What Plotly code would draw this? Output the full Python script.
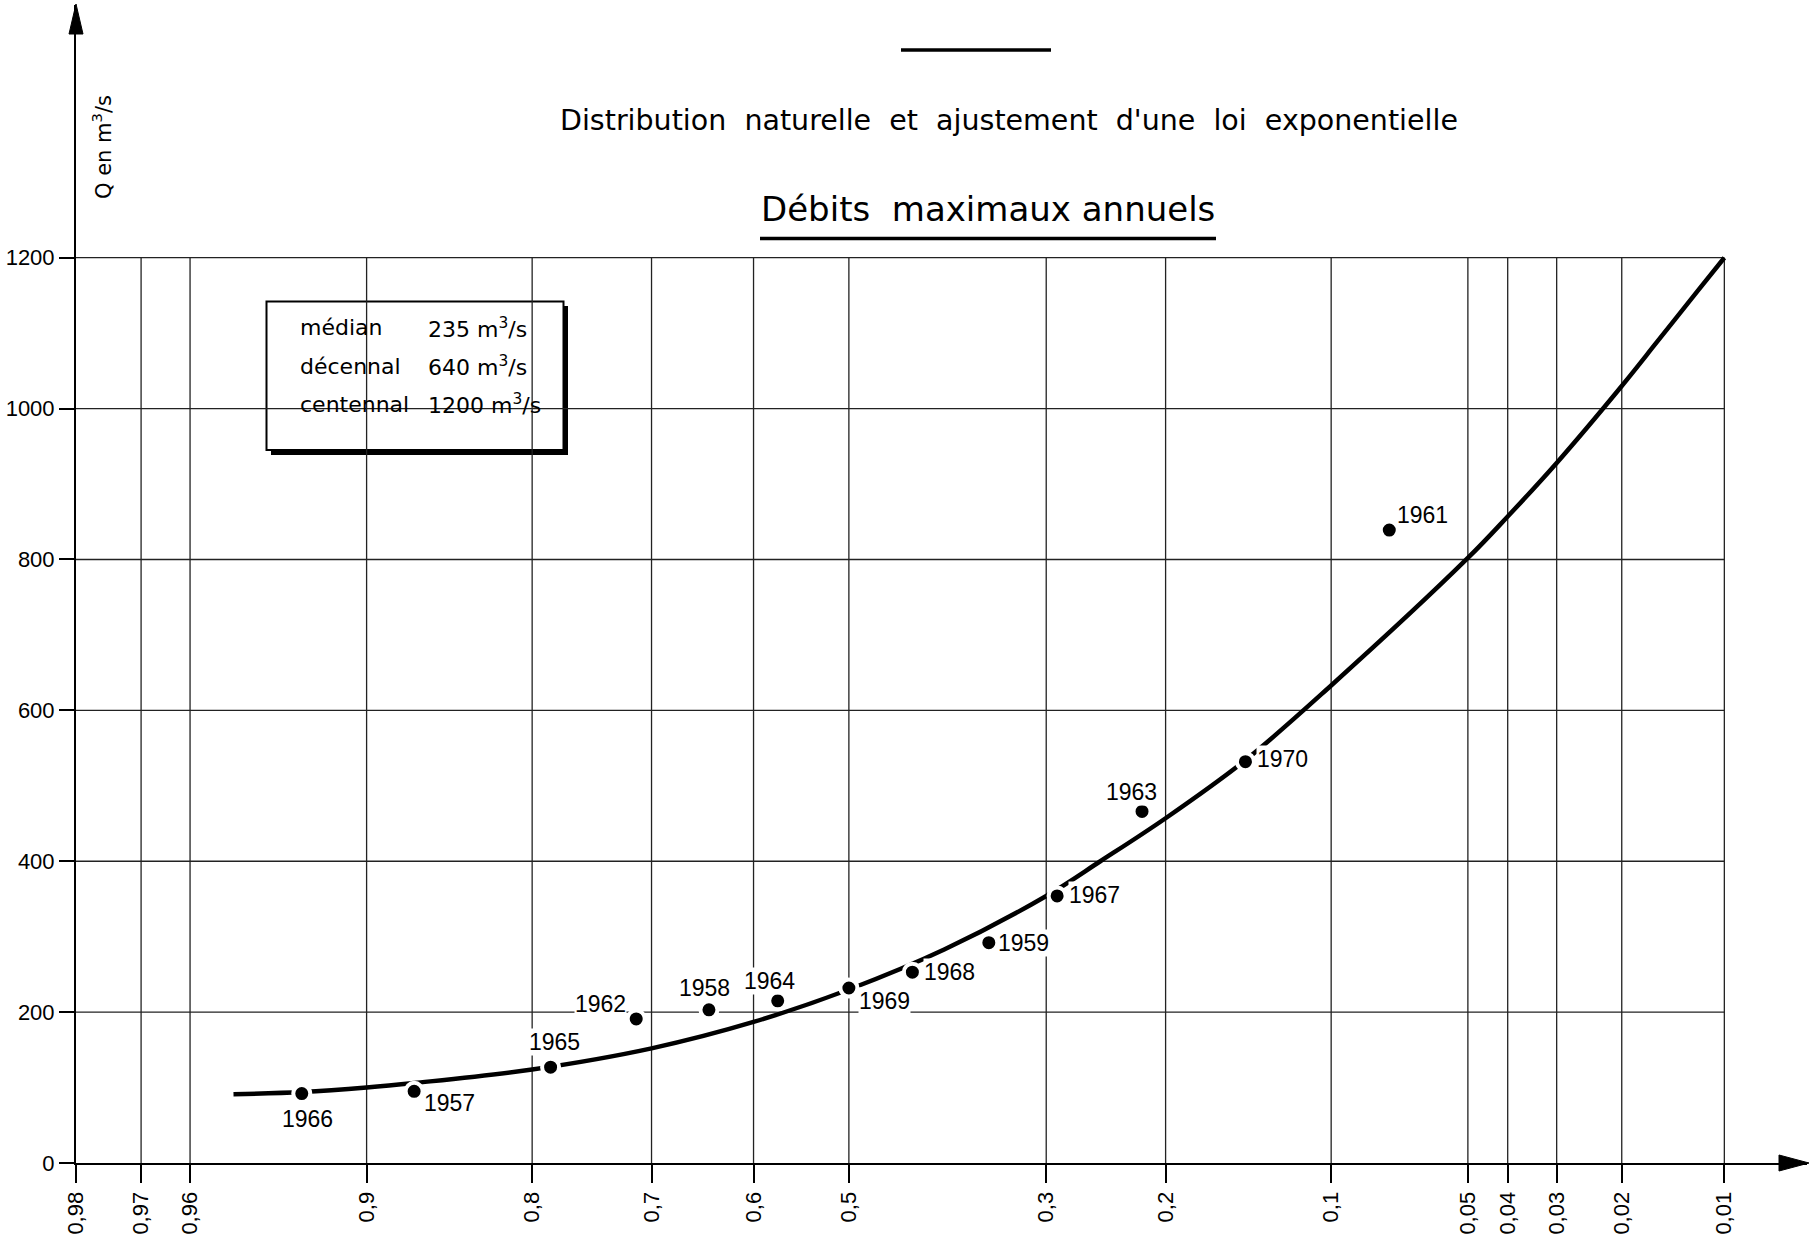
from statistics import NormalDist
import plotly.graph_objects as go

# ---------------- data ----------------
prob_ticks = [0.98, 0.97, 0.96, 0.9, 0.8, 0.7, 0.6, 0.5, 0.3, 0.2, 0.1, 0.05, 0.04, 0.03, 0.02, 0.01]
prob_tick_labels = ["0,98", "0,97", "0,96", "0,9", "0,8", "0,7", "0,6", "0,5", "0,3", "0,2",
                    "0,1", "0,05", "0,04", "0,03", "0,02", "0,01"]
q_ticks = [0, 200, 400, 600, 800, 1000, 1200]
q_tick_labels = ["0", "200", "400", "600", "800", "1000", "1200"]

years = [1966, 1957, 1965, 1962, 1958, 1964, 1969, 1968, 1959, 1967, 1963, 1970, 1961]
year_prob = [0.927, 0.876, 0.786, 0.714, 0.645, 0.575, 0.5, 0.433, 0.355, 0.29, 0.218, 0.146, 0.0755]
year_q = [92, 95, 127, 191, 203, 215, 232, 253, 292, 354, 466, 532, 839]

curve_prob = [0.949, 0.927, 0.9, 0.876, 0.8, 0.7, 0.6, 0.5, 0.4, 0.3, 0.252, 0.2, 0.146,
              0.1, 0.05, 0.04, 0.03, 0.02, 0.0159, 0.0121, 0.01]
curve_q = [91, 94, 100, 106, 124, 152, 187, 230, 283, 354, 400, 457, 534,
           633, 802, 857, 928, 1030, 1088, 1155, 1200]

summary_names = ["médian", "décennal", "centennal"]
summary_values = ["235 m<sup>3</sup>/s", "640 m<sup>3</sup>/s", "1200 m<sup>3</sup>/s"]

title_main = "Débits  maximaux annuels"
title_sub = "Distribution  naturelle  et  ajustement  d'une  loi  exponentielle"
y_title = "Q en m<sup>3</sup>/s"

# ---------------- scale: normal probability paper ----------------
ND = NormalDist()


def zpos(p):
    return ND.inv_cdf(1 - p)


# ---------------- layout geometry (pixels) ----------------
W, H = 1813, 1240
ML, MR, MT, MB = 76, 6, 5, 77
PW, PH = W - ML - MR, H - MT - MB
x_range = [zpos(0.98), 2.546]
y_range = [0, 1535]


def paper_x(px):
    return (px - ML) / PW


def paper_y(py):
    return (H - MB - py) / PH


# label offsets in pixels: (xanchor, xshift, yshift)
label_pos = {
    1966: ("center", 6, -25), 1957: ("left", 9, -12), 1965: ("center", 4, 25),
    1962: ("right", -9, 15), 1958: ("center", -4, 22), 1964: ("center", -8, 20),
    1969: ("left", 9, -13), 1968: ("left", 11, 0), 1959: ("left", 8, 0),
    1967: ("left", 11, 1), 1963: ("center", -11, 19), 1970: ("left", 11, 3),
    1961: ("left", 7, 15),
}

fig = go.Figure()

# fitted curve
fig.add_trace(go.Scatter(
    x=[zpos(p) for p in curve_prob], y=curve_q, mode="lines",
    line=dict(color="black", width=4.5, shape="spline", smoothing=1.0),
    hoverinfo="skip", showlegend=False))

# observed points
fig.add_trace(go.Scatter(
    x=[zpos(p) for p in year_prob], y=year_q, mode="markers",
    marker=dict(color="black", size=17, line=dict(color="white", width=4)),
    hovertext=[str(y) for y in years], hoverinfo="text", showlegend=False, cliponaxis=False))

shapes = []
grid_style = dict(color="#222222", width=1.3)
for p in prob_ticks[1:]:
    shapes.append(dict(type="line", xref="x", yref="y", x0=zpos(p), x1=zpos(p),
                       y0=0, y1=max(q_ticks), line=grid_style, layer="below"))
for q in q_ticks[1:]:
    shapes.append(dict(type="line", xref="x", yref="y", x0=zpos(0.98), x1=zpos(0.01),
                       y0=q, y1=q, line=grid_style, layer="below"))

# summary box with shadow
shapes.append(dict(type="rect", xref="paper", yref="paper",
                   x0=paper_x(271), x1=paper_x(568), y0=paper_y(306), y1=paper_y(455),
                   fillcolor="black", line=dict(width=0), layer="below"))
shapes.append(dict(type="rect", xref="paper", yref="paper",
                   x0=paper_x(266.5), x1=paper_x(563.5), y0=paper_y(301.5), y1=paper_y(450),
                   fillcolor="white", line=dict(color="black", width=2), layer="below"))

# title rules
shapes.append(dict(type="line", xref="paper", yref="paper",
                   x0=paper_x(901), x1=paper_x(1051), y0=paper_y(50), y1=paper_y(50),
                   line=dict(color="black", width=3.5)))
shapes.append(dict(type="line", xref="paper", yref="paper",
                   x0=paper_x(760), x1=paper_x(1216), y0=paper_y(238.5), y1=paper_y(238.5),
                   line=dict(color="black", width=3.5)))

# axis arrowheads
ax_tip_x, ax_tip_y = 1809, H - MB
shapes.append(dict(type="path", xref="paper", yref="paper", fillcolor="black",
                   line=dict(color="black", width=1),
                   path=(f"M {paper_x(ax_tip_x)},{paper_y(ax_tip_y)} "
                         f"L {paper_x(ax_tip_x - 30)},{paper_y(ax_tip_y - 8)} "
                         f"L {paper_x(ax_tip_x - 30)},{paper_y(ax_tip_y + 8)} Z")))
ay_tip_x, ay_tip_y = ML, 4
shapes.append(dict(type="path", xref="paper", yref="paper", fillcolor="black",
                   line=dict(color="black", width=1),
                   path=(f"M {paper_x(ay_tip_x)},{paper_y(ay_tip_y)} "
                         f"L {paper_x(ay_tip_x - 7)},{paper_y(ay_tip_y + 30)} "
                         f"L {paper_x(ay_tip_x + 7)},{paper_y(ay_tip_y + 30)} Z")))

annotations = []
label_font = dict(family="Liberation Sans, Arial, sans-serif", size=23, color="black")
for yr, p, q in zip(years, year_prob, year_q):
    xa, xs, ys = label_pos[yr]
    annotations.append(dict(x=zpos(p), y=q, xref="x", yref="y", text=str(yr),
                            showarrow=False, xanchor=xa, yanchor="middle",
                            xshift=xs, yshift=ys, font=label_font,
                            bgcolor="white", borderpad=0))

box_font = dict(family="DejaVu Sans, sans-serif", size=22, color="black")
for i, (name, val) in enumerate(zip(summary_names, summary_values)):
    yy = 328 + i * 38
    annotations.append(dict(x=paper_x(298), y=paper_y(yy), xref="paper", yref="paper",
                            text=name, showarrow=False, xanchor="left", yanchor="middle",
                            font=box_font))
    annotations.append(dict(x=paper_x(426), y=paper_y(yy), xref="paper", yref="paper",
                            text=val, showarrow=False, xanchor="left", yanchor="middle",
                            font=box_font))

annotations.append(dict(x=paper_x(1009), y=paper_y(121), xref="paper", yref="paper",
                        text=title_sub, showarrow=False, xanchor="center", yanchor="middle",
                        font=dict(family="DejaVu Sans, sans-serif", size=28.5, color="black")))
annotations.append(dict(x=paper_x(988), y=paper_y(209), xref="paper", yref="paper",
                        text=title_main, showarrow=False, xanchor="center", yanchor="middle",
                        font=dict(family="DejaVu Sans, sans-serif", size=34, color="black")))
annotations.append(dict(x=paper_x(102), y=paper_y(147), xref="paper", yref="paper",
                        text=y_title, showarrow=False, textangle=-90,
                        xanchor="center", yanchor="middle",
                        font=dict(family="DejaVu Sans, sans-serif", size=21, color="black")))

tick_font = dict(family="Liberation Sans, Arial, sans-serif", size=22, color="black")
fig.update_layout(
    width=W, height=H,
    margin=dict(l=ML, r=MR, t=MT, b=MB, autoexpand=False),
    paper_bgcolor="white", plot_bgcolor="white",
    shapes=shapes, annotations=annotations, showlegend=False,
    xaxis=dict(range=x_range, tickmode="array",
               tickvals=[zpos(p) for p in prob_ticks], ticktext=prob_tick_labels,
               tickangle=-90, ticks="outside", ticklen=18, tickwidth=1.5, tickcolor="black",
               showgrid=False, zeroline=False, showline=True, linecolor="black", linewidth=2,
               tickfont=tick_font, automargin=False, fixedrange=True),
    yaxis=dict(range=y_range, tickmode="array", tickvals=q_ticks, ticktext=q_tick_labels,
               ticks="outside", ticklen=15, tickwidth=1.5, tickcolor="black",
               showgrid=False, zeroline=False, showline=True, linecolor="black", linewidth=2,
               tickfont=tick_font, automargin=False, fixedrange=True),
)

fig.write_html(
    "out.html",
    config={"displayModeBar": False},
    post_script="document.body.style.margin='0px';document.body.style.padding='0px';",
)
